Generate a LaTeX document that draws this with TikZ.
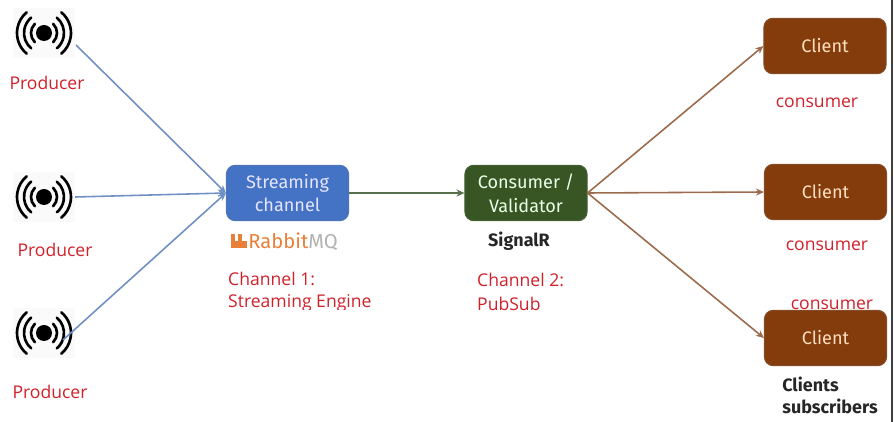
\documentclass[tikz,border=0pt]{standalone}
\usepackage{fontspec}
\setmainfont{Open Sans}
\newfontfamily\boxfont{Fira Sans}
\usetikzlibrary{arrows.meta}
\definecolor{redlabel}{HTML}{D0202A}
\definecolor{bluebox}{HTML}{4472C4}
\definecolor{greenbox}{HTML}{375623}
\definecolor{brownbox}{HTML}{843C0C}
\definecolor{rabbit}{HTML}{E8803A}
\definecolor{edgeblue}{HTML}{7090C4}
\definecolor{edgegreen}{HTML}{56704C}
\definecolor{edgebrown}{HTML}{9C6A4C}
\tikzset{
    radio/.pic={
        \fill[black] (0,0) circle (8);
        \draw[black, line width=1.5pt, line cap=round] (-45:13) arc (-45:45:13) (135:13) arc (135:225:13);
        \draw[black, line width=1.5pt, line cap=round] (-50:20) arc (-50:50:20) (130:20) arc (130:230:20);
        \draw[black, line width=1.5pt, line cap=round] (-50:27) arc (-50:50:27) (130:27) arc (130:230:27);
    },
    iconbox/.style={minimum width=35pt, minimum height=28pt, inner sep=0, fill=black!2},
    redtext/.style={text=redlabel, font=\fontsize{10}{12}\selectfont},
    chantext/.style={redtext, anchor=west},
    flowbox/.style={rounded corners=5pt, minimum width=69.5pt, minimum height=31.5pt, inner sep=0, align=center, line width=0.6pt, font=\boxfont\fontsize{10.3}{13.5}\selectfont},
    blackbold/.style={font=\boxfont\fontsize{10.2}{12.5}\selectfont\bfseries, text=black!85},
    bluearrow/.style={draw=edgeblue, line width=0.9pt, -{Stealth[length=4.5pt,width=4pt]}},
    greenarrow/.style={draw=edgegreen, line width=0.9pt, -{Stealth[length=4.5pt,width=4pt]}},
    brownarrow/.style={draw=edgebrown, line width=0.9pt, -{Stealth[length=4.5pt,width=4pt]}},
}
\begin{document}
\begin{tikzpicture}[x=0.02cm,y=-0.02cm]
    \useasboundingbox (0,0) rectangle (894,422);

    % sources
    \node[iconbox] (prod1) at (44,33) {};
    \node[iconbox] (prod2) at (44,197) {};
    \node[iconbox] (prod3) at (44,333) {};
    \pic at (44,33) {radio};
    \pic at (44,197) {radio};
    \pic at (44,333) {radio};
    \coordinate (tail1) at (76,45);
    \coordinate (tail3) at (63,340);

    \node[redtext] (prodlabel1) at (47,83) {Producer};
    \node[redtext] (prodlabel2) at (55,250) {Producer};
    \node[redtext] (prodlabel3) at (50,392) {Producer};

    % middle boxes
    \node[flowbox, draw=bluebox!80!gray, fill=bluebox, text=blue!10!white] (stream) at (287.5,193) {Streaming\\channel};
    \node[flowbox, draw=greenbox!80!gray, fill=greenbox, text=green!8!white] (validator) at (526,193) {Consumer /\\Validator};

    % channel labels
    \node[chantext] (chan1) at (222,279) {Channel 1:};
    \node[chantext] (engine) at (222,303) {Streaming Engine};
    \fill[white] (220,310) rectangle (380,320);
    \node[chantext] (chan2) at (471,280) {Channel 2:};
    \node[chantext] (pubsub) at (471,304) {PubSub};
    \fill[white] (470,311) rectangle (560,320);

    % logo
    \fill[rabbit] (231,234) rectangle (235,248);
    \fill[rabbit] (238,234) rectangle (242,248);
    \fill[rabbit] (231,241) rectangle (247,248);
    \node[anchor=west, inner sep=0, font=\boxfont\fontsize{11.5}{12}\selectfont] (rabbitmq) at (248,241.5) {\textcolor{rabbit}{Rabbit}\textcolor{black!30}{MQ}};
    \node[blackbold] (signalr) at (519,241) {SignalR};

    % clients
    \node[redtext] (conslabel1) at (817,102.5) {consumer};
    \node[redtext] (conslabel2) at (827,245.5) {consumer};
    \node[redtext] (conslabel3) at (832,304.5) {consumer};
    \node[flowbox, draw=brownbox!75!gray, fill=brownbox, text=orange!25!white] (client1) at (825,46) {Client};
    \node[flowbox, draw=brownbox!75!gray, fill=brownbox, text=orange!25!white] (client2) at (825.5,192) {Client};
    \node[flowbox, draw=brownbox!75!gray, fill=brownbox, text=orange!25!white] (client3) at (825.5,338) {Client};

    \node[blackbold, anchor=west, inner sep=0] (clients) at (782,384) {Clients};
    \node[blackbold, anchor=west, inner sep=0] (subscribers) at (782,406) {subscribers};

    % edges
    \draw[bluearrow] (tail1) to (stream.west);
    \draw[bluearrow] (prod2.east) to (stream.west);
    \draw[bluearrow] (tail3) to (stream.west);
    \draw[greenarrow] (stream.east) to (validator.west);
    \draw[brownarrow] (validator.east) to (client1.west);
    \draw[brownarrow] (validator.east) to (client2.west);
    \draw[brownarrow] (validator.east) to (client3.west);

    % dark strip at the right edge
    \fill[black!75] (890.5,0) rectangle (892.5,422);
\end{tikzpicture}
\end{document}
